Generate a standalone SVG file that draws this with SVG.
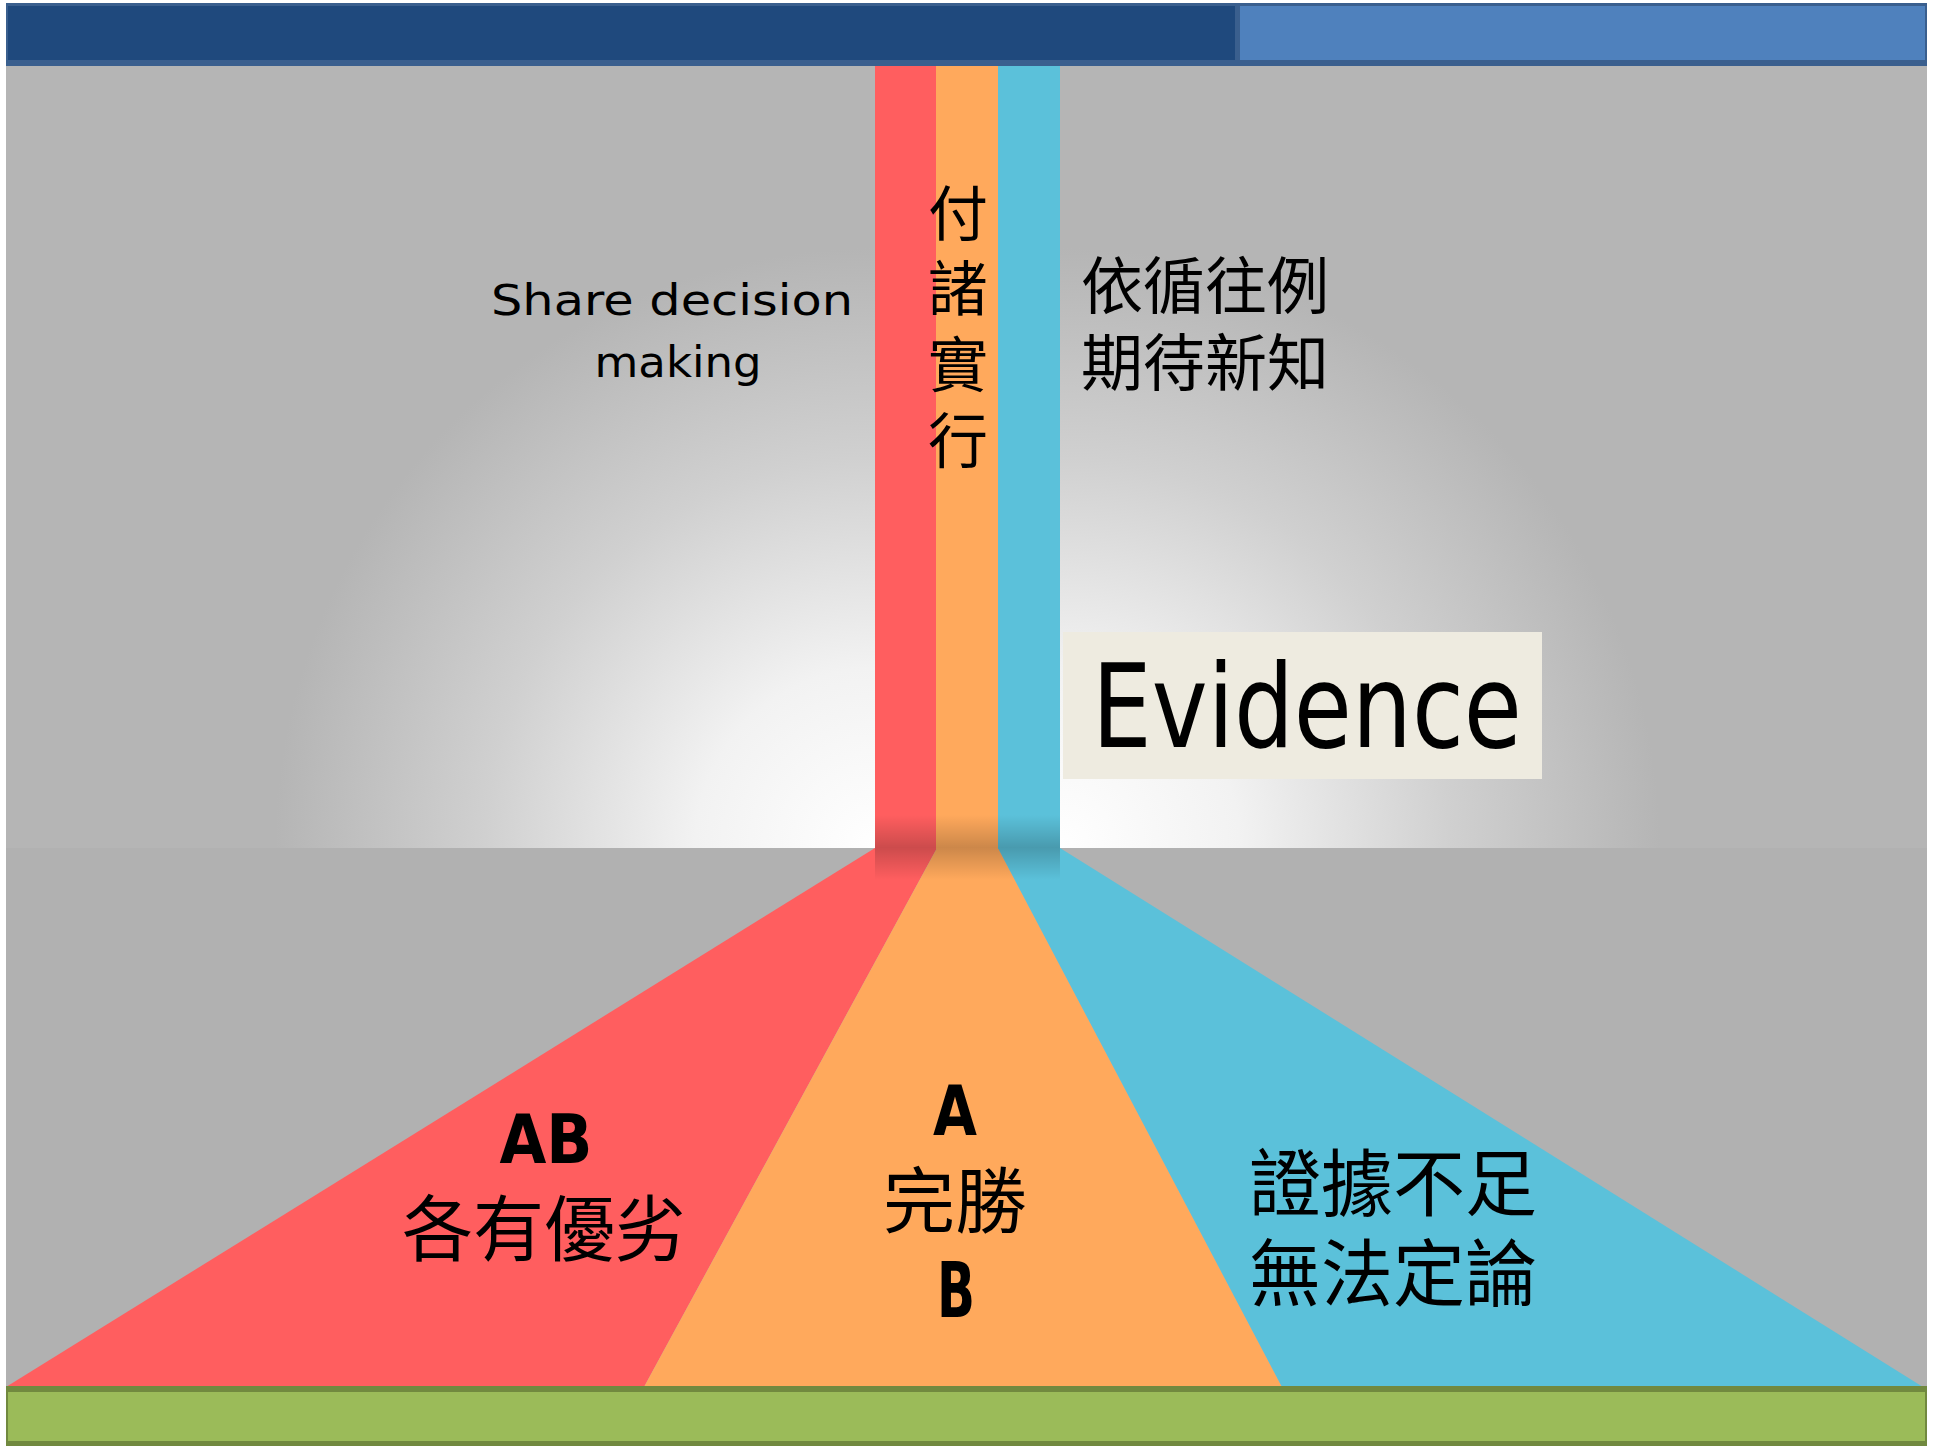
<svg xmlns="http://www.w3.org/2000/svg" width="1933" height="1446" viewBox="0 0 1933 1446">
<style>
.lat{font-family:"Comic Sans MS","DejaVu Sans",sans-serif;fill:#000}
.cjk{font-family:"Noto Sans CJK TC","Noto Sans CJK SC",sans-serif;fill:#000}
</style>
<defs>
<radialGradient id="glowL" gradientUnits="userSpaceOnUse" cx="875" cy="848" r="600">
<stop offset="0" stop-color="#ffffff"/>
<stop offset="0.3" stop-color="#f2f2f2"/>
<stop offset="0.65" stop-color="#d0d0d0"/>
<stop offset="1" stop-color="#b5b5b5"/>
</radialGradient>
<radialGradient id="glowR" gradientUnits="userSpaceOnUse" cx="1060" cy="848" r="600">
<stop offset="0" stop-color="#ffffff"/>
<stop offset="0.3" stop-color="#f2f2f2"/>
<stop offset="0.65" stop-color="#d0d0d0"/>
<stop offset="1" stop-color="#b5b5b5"/>
</radialGradient>
<linearGradient id="shade" x1="0" y1="0" x2="0" y2="1">
<stop offset="0" stop-color="#000" stop-opacity="0"/>
<stop offset="0.5" stop-color="#000" stop-opacity="0.2"/>
<stop offset="1" stop-color="#000" stop-opacity="0"/>
</linearGradient>
</defs>
<rect x="0" y="0" width="1933" height="1446" fill="#ffffff"/>
<g id="background">
<rect x="6" y="66" width="1921" height="1320" fill="#b1b1b1"/>
<rect x="6" y="66" width="869" height="782" fill="url(#glowL)"/>
<rect x="1060" y="66" width="867" height="782" fill="url(#glowR)"/>
</g>
<g id="top-bar">
<rect x="6" y="3" width="1921" height="63" fill="#3a5f8e"/>
<rect x="8" y="6" width="1227" height="54" fill="#1f497d"/>
<rect x="1240" y="6" width="685" height="54" fill="#4f81bd"/>
</g>
<g id="stripes">
<g id="red-stripe">
<rect x="875" y="66" width="62" height="783" fill="#ff5e5f"/>
<path d="M875,848 L937,848 L644,1387 L6,1387 Z" fill="#ff5e5f"/>
</g>
<g id="orange-stripe">
<rect x="936" y="66" width="63" height="783" fill="#ffa95c"/>
<path d="M937,848 L998,848 L1282,1387 L644,1387 Z" fill="#ffa95c"/>
</g>
<g id="blue-stripe">
<rect x="998" y="66" width="62" height="783" fill="#5bc1da"/>
<path d="M998,848 L1060,848 L1923,1387 L1282,1387 Z" fill="#5bc1da"/>
</g>
<rect x="875" y="815" width="185" height="65" fill="url(#shade)"/>
</g>
<g id="bottom-bar">
<rect x="6" y="1386" width="1921" height="60" fill="#71893f"/>
<rect x="8" y="1392" width="1917" height="49" fill="#9bbb59"/>
</g>
<g id="label-sdm">
<text class="lat" x="672" y="315" font-size="42" text-anchor="middle" textLength="362" lengthAdjust="spacingAndGlyphs">Share decision</text>
<text class="lat" x="678" y="377" font-size="42" text-anchor="middle" textLength="167" lengthAdjust="spacingAndGlyphs">making</text>
</g>
<g id="label-vertical" font-size="60" text-anchor="middle">
<text class="cjk" x="958" y="236">付</text>
<text class="cjk" x="958" y="311">諸</text>
<text class="cjk" x="958" y="387">實</text>
<text class="cjk" x="958" y="463">行</text>
</g>
<g id="label-right">
<text class="cjk" x="1205" y="309" font-size="62" text-anchor="middle" textLength="248" lengthAdjust="spacingAndGlyphs">依循往例</text>
<text class="cjk" x="1205" y="386" font-size="62" text-anchor="middle" textLength="248" lengthAdjust="spacingAndGlyphs">期待新知</text>
</g>
<g id="evidence">
<rect x="1063" y="632" width="479" height="147" fill="#eeebe0"/>
<text class="lat" x="1092" y="747" font-size="116" textLength="430" lengthAdjust="spacingAndGlyphs">Evidence</text>
</g>
<g id="label-ab">
<text class="lat" x="546" y="1163" font-size="68" font-weight="bold" text-anchor="middle" textLength="93" lengthAdjust="spacingAndGlyphs">AB</text>
<text class="cjk" x="544" y="1255" font-size="72" text-anchor="middle" textLength="284" lengthAdjust="spacingAndGlyphs">各有優劣</text>
</g>
<g id="label-a-b">
<text class="lat" x="955" y="1135" font-size="70" font-weight="bold" text-anchor="middle" textLength="44" lengthAdjust="spacingAndGlyphs">A</text>
<text class="cjk" x="955" y="1227" font-size="72" text-anchor="middle">完勝</text>
<text class="lat" x="956" y="1317" font-size="76" font-weight="bold" text-anchor="middle" textLength="38" lengthAdjust="spacingAndGlyphs">B</text>
</g>
<g id="label-evidence-insufficient">
<text class="cjk" x="1393" y="1210" font-size="73" text-anchor="middle" textLength="288" lengthAdjust="spacingAndGlyphs">證據不足</text>
<text class="cjk" x="1393" y="1300" font-size="73" text-anchor="middle" textLength="288" lengthAdjust="spacingAndGlyphs">無法定論</text>
</g>
<g id="connectors"></g>
</svg>
